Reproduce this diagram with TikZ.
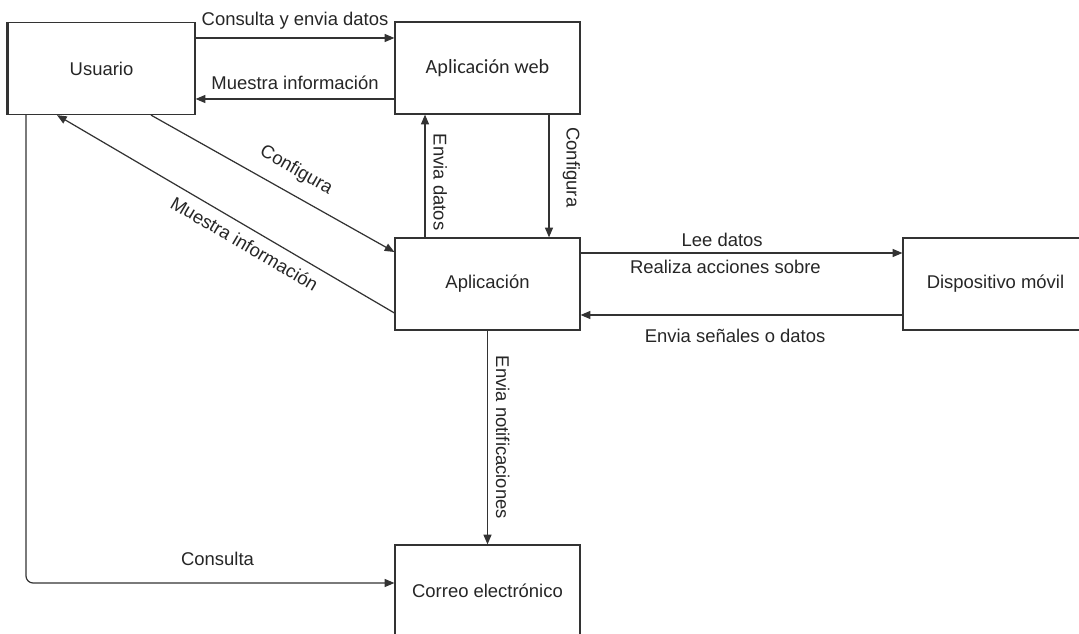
\documentclass[tikz,border=0pt]{standalone}
\usepackage{fontspec}
\setmainfont{Liberation Sans}
\newfontfamily\webfont{Carlito}
\usetikzlibrary{arrows.meta}

\tikzset{
  caja/.style={draw=black!80, line width=0.7pt, minimum width=3.7cm,
    minimum height=1.84cm, inner sep=0pt, text=black!85},
  flecha/.style={draw=black!80, line width=0.7pt,
    -{Triangle[length=5.5pt,width=4.5pt]}},
  etiq/.style={text=black!85},
  vert/.style={etiq, anchor=south, rotate=-90},
}

\begin{document}
\begin{tikzpicture}[x=0.02cm, y=-0.02cm, font=\fontsize{10.5}{12}\selectfont]
  \useasboundingbox (0,0) rectangle (1079,634);
  \clip (0,0) rectangle (1079,634);

  % ─────────── cajas ─────────────────────────────────────────────────
  \node[caja, minimum width=3.74cm] (usuario) at (101.5,68.5) {Usuario};
  \node[caja, font=\webfont\fontsize{11.5}{13}\selectfont] (web) at (487.5,68) {Aplicación web};
  \node[caja] (app) at (487.5,284) {Aplicación};
  \node[caja] (movil) at (995.5,284) {Dispositivo móvil};
  \node[caja] (correo) at (487.5,591) {Correo electrónico};
  \draw[black!80, line width=1.4pt] (usuario.north west) -- (usuario.south west);

  % ─────────── Usuario <-> Aplicación web ────────────────────────────
  \draw[flecha] (usuario.east |- 0,38) -- (web.west |- 0,38)
    node[etiq, midway, above=1pt] {Consulta y envia datos};
  \draw[flecha] (web.west |- 0,99) -- (usuario.east |- 0,99)
    node[etiq, midway, above=1.5pt] {Muestra información};

  % ─────────── Usuario <-> Aplicación ────────────────────────────────
  \draw[flecha] (usuario.south -| 151,0) -- (app.west |- 0,252)
    node[etiq, pos=0.55, above=4.5pt, sloped] {Configura};
  \draw[flecha] (app.west |- 0,313) -- (usuario.south -| 57,0)
    node[etiq, pos=0.42, below=1.5pt, sloped] {Muestra información};

  % ─────────── Aplicación <-> Aplicación web ─────────────────────────
  \draw[flecha] (app.north -| 425,0) -- (web.south -| 425,0)
    node[vert, pos=0.45, outer sep=1.5pt] {Envia datos};
  \draw[flecha] (web.south -| 549,0) -- (app.north -| 549,0)
    node[vert, pos=0.43, outer sep=4.5pt] {Configura};

  % ─────────── Aplicación <-> Dispositivo móvil ──────────────────────
  \draw[flecha] (app.east |- 0,253) -- (movil.west |- 0,253)
    node[etiq, pos=0.44, above] {Lee datos}
    node[etiq, pos=0.45, below=0.5pt] {Realiza acciones sobre};
  \draw[flecha] (movil.west |- 0,315) -- (app.east |- 0,315)
    node[etiq, pos=0.52, below=4.5pt] {Envia señales o datos};

  % ─────────── Correo electrónico ────────────────────────────────────
  \draw[flecha] (app.south) -- (correo.north)
    node[vert, pos=0.5, outer sep=1.5pt] {Envia notificaciones};
  \draw[flecha, rounded corners=4pt] (usuario.south -| 26,0) |- (correo.west |- 0,583)
    node[etiq, pos=0.76, above=6pt] {Consulta};
\end{tikzpicture}
\end{document}
